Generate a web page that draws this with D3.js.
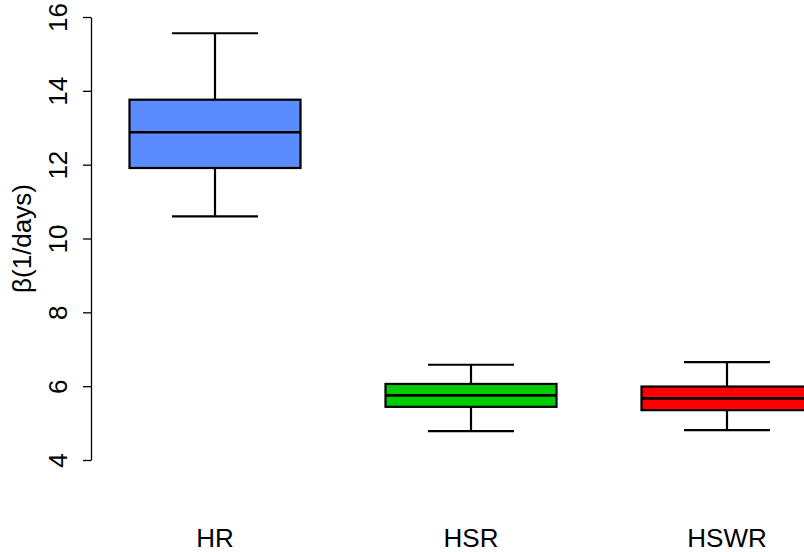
<!DOCTYPE html>
<html>
<head>
<meta charset="utf-8">
<script src="https://cdn.jsdelivr.net/npm/d3@7"></script>
<style>
  html, body { margin: 0; padding: 0; background: #fff; }
  svg { display: block; }
  svg text { font-family: "Liberation Sans", Arial, Helvetica, sans-serif; }
</style>
</head>
<body>
<svg id="chart" width="804" height="552"></svg>
<script>
// box statistics
const categories = ['HR', 'HSR', 'HSWR'];
const whiskerLow = [10.60, 4.78, 4.81];
const q1 = [11.91, 5.44, 5.35];
const medians = [12.88, 5.75, 5.67];
const q3 = [13.76, 6.06, 5.99];
const whiskerHigh = [15.56, 6.58, 6.65];
const fills = ['#5A8CFF', '#00CC00', '#FF0000'];
const yTicks = [4, 6, 8, 10, 12, 14, 16];

const boxes = categories.map((c, i) => ({
    name: c, lo: whiskerLow[i], q1: q1[i], med: medians[i], q3: q3[i], hi: whiskerHigh[i], fill: fills[i]
}));

const svg = d3.select('#chart');

const xScale = d3.scalePoint().domain(categories).range([215, 727]);
const yScale = d3.scaleLinear().domain([4, 16]).range([460, 17]);
const step = xScale.step();
const boxHalf = step * 0.334;
const capHalf = step * 0.168;

// y axis
const yAxis = svg.append('g')
    .attr('transform', 'translate(91, 0)')
    .call(d3.axisLeft(yScale).tickValues(yTicks).tickSize(8).tickSizeOuter(0).tickFormat(d3.format('d')))
    .attr('font-family', null)
    .attr('font-size', null);

yAxis.select('.domain').attr('stroke', '#000').attr('stroke-width', 1.3);
yAxis.selectAll('.tick line').attr('stroke', '#000').attr('stroke-width', 1.3);
yAxis.selectAll('.tick text')
    .attr('x', null).attr('dy', null)
    .attr('transform', 'translate(-24, 0) rotate(-90)')
    .attr('text-anchor', 'middle')
    .attr('fill', '#000')
    .style('font-size', '26px');

svg.append('text')
    .attr('transform', `translate(31, ${(yScale(4) + yScale(16)) / 2}) rotate(-90)`)
    .attr('text-anchor', 'middle')
    .style('font-size', '26px')
    .text('β(1/days)');

// category labels
svg.append('g').selectAll('text')
    .data(categories)
    .join('text')
    .attr('x', (d) => xScale(d))
    .attr('y', 547)
    .attr('text-anchor', 'middle')
    .style('font-size', '26px')
    .text((d) => d);

// boxes
const g = svg.append('g').selectAll('g')
    .data(boxes)
    .join('g');

g.append('line')
    .attr('x1', (d) => xScale(d.name)).attr('x2', (d) => xScale(d.name))
    .attr('y1', (d) => yScale(d.hi)).attr('y2', (d) => yScale(d.q3))
    .attr('stroke', '#000').attr('stroke-width', 2.2);

g.append('line')
    .attr('x1', (d) => xScale(d.name)).attr('x2', (d) => xScale(d.name))
    .attr('y1', (d) => yScale(d.q1)).attr('y2', (d) => yScale(d.lo))
    .attr('stroke', '#000').attr('stroke-width', 2.2);

g.append('line')
    .attr('x1', (d) => xScale(d.name) - capHalf).attr('x2', (d) => xScale(d.name) + capHalf)
    .attr('y1', (d) => yScale(d.hi)).attr('y2', (d) => yScale(d.hi))
    .attr('stroke', '#000').attr('stroke-width', 2.2);

g.append('line')
    .attr('x1', (d) => xScale(d.name) - capHalf).attr('x2', (d) => xScale(d.name) + capHalf)
    .attr('y1', (d) => yScale(d.lo)).attr('y2', (d) => yScale(d.lo))
    .attr('stroke', '#000').attr('stroke-width', 2.2);

g.append('rect')
    .attr('x', (d) => xScale(d.name) - boxHalf)
    .attr('width', boxHalf * 2)
    .attr('y', (d) => yScale(d.q3))
    .attr('height', (d) => yScale(d.q1) - yScale(d.q3))
    .attr('fill', (d) => d.fill)
    .attr('stroke', '#000').attr('stroke-width', 2.2);

g.append('line')
    .attr('x1', (d) => xScale(d.name) - boxHalf).attr('x2', (d) => xScale(d.name) + boxHalf)
    .attr('y1', (d) => yScale(d.med)).attr('y2', (d) => yScale(d.med))
    .attr('stroke', '#000').attr('stroke-width', 2.6);
</script>
</body>
</html>
